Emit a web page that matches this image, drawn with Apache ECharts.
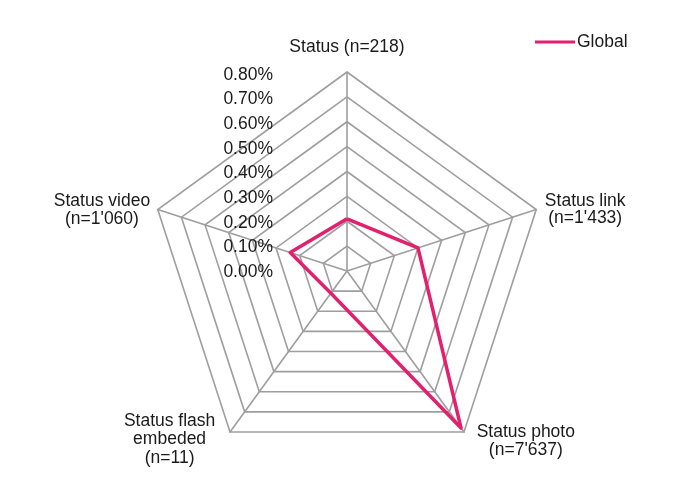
<!DOCTYPE html>
<html>
<head>
<meta charset="utf-8">
<script src="https://cdn.jsdelivr.net/npm/echarts@6/dist/echarts.min.js"></script>
<style>html,body{margin:0;padding:0;background:#fff}#c{width:700px;height:500px}</style>
</head>
<body>
<div id="c"></div>
<script>
// Indicators in ECharts order (counter-clockwise from top)
const indicatorNames = ['Status (n=218)', "Status video\n(n=1'060)", 'Status flash\nembeded\n(n=11)', "Status photo\n(n=7'637)", "Status link\n(n=1'433)"];
const globalValues = [0.21, 0.24, 0.11, 0.78, 0.30];
const seriesName = 'Global';
const tickLabels = ['0.00%', '0.10%', '0.20%', '0.30%', '0.40%', '0.50%', '0.60%', '0.70%', '0.80%'];
const axisMax = 0.8;

const FONT = 'Liberation Sans, Arial, sans-serif';
const FS = 17.5;
const TXT = '#1a1a1a';
const chart = echarts.init(document.getElementById('c'), null, {renderer: 'canvas'});
const richKeys = ['top', 'video', 'flash', 'photo', 'link'];
const base = {fontFamily: FONT, fontSize: FS, color: TXT, align: 'center'};
chart.setOption({
  animation: false,
  backgroundColor: '#fff',
  legend: {
    data: [seriesName],
    left: 530, top: 28,
    icon: 'rect', itemWidth: 40, itemHeight: 3, itemGap: 5,
    textStyle: {fontFamily: FONT, fontSize: FS, color: TXT, padding: [0,0,0,-3]}
  },
  grid: {left: 277, top: 75, width: 1, height: 197, containLabel: false},
  xAxis: {type: 'value', show: false, min: 0, max: 1},
  yAxis: {
    type: 'value', min: 0, max: axisMax, interval: 0.1,
    axisLine: {show: false}, axisTick: {show: false}, splitLine: {show: false},
    axisLabel: {
      margin: 4, fontFamily: FONT, fontSize: FS, color: TXT,
      formatter: v => tickLabels[Math.round(v / 0.1)]
    }
  },
  radar: {
    center: [347, 271], radius: 199, startAngle: 90,
    shape: 'polygon', splitNumber: 8,
    indicator: indicatorNames.map(n => ({name: n, min: 0, max: axisMax})),
    nameGap: 8,
    axisName: {
      fontFamily: FONT, fontSize: FS, color: TXT,
      formatter: (name) => {
        const idx = indicatorNames.indexOf(name);
        const key = richKeys[idx];
        return name.split('\n').map(l => '{' + key + '|' + l + '}').join('\n');
      },
      rich: {
        top: Object.assign({}, base, {padding: [0,0,14,0], lineHeight: 19}),
        video: Object.assign({}, base, {padding: [6,0,0,0], lineHeight: 17.5}),
        flash: Object.assign({}, base, {padding: [2,10,0,0], lineHeight: 18.5}),
        photo: Object.assign({}, base, {padding: [6,0,0,8], lineHeight: 18}),
        link: Object.assign({}, base, {padding: [5,0,0,1], lineHeight: 17})
      }
    },
    axisLine: {lineStyle: {color: '#9e9e9e', width: 1.6}},
    splitLine: {lineStyle: {color: '#9e9e9e', width: 1.6}},
    splitArea: {show: false},
    axisTick: {show: false},
    axisLabel: {show: false}
  },
  series: [{
    type: 'radar',
    name: seriesName,
    symbol: 'none',
    itemStyle: {color: '#e2206e'},
    lineStyle: {color: '#e2206e', width: 3.5},
    data: [{value: globalValues, name: seriesName}]
  }]
});
</script>
</body>
</html>
